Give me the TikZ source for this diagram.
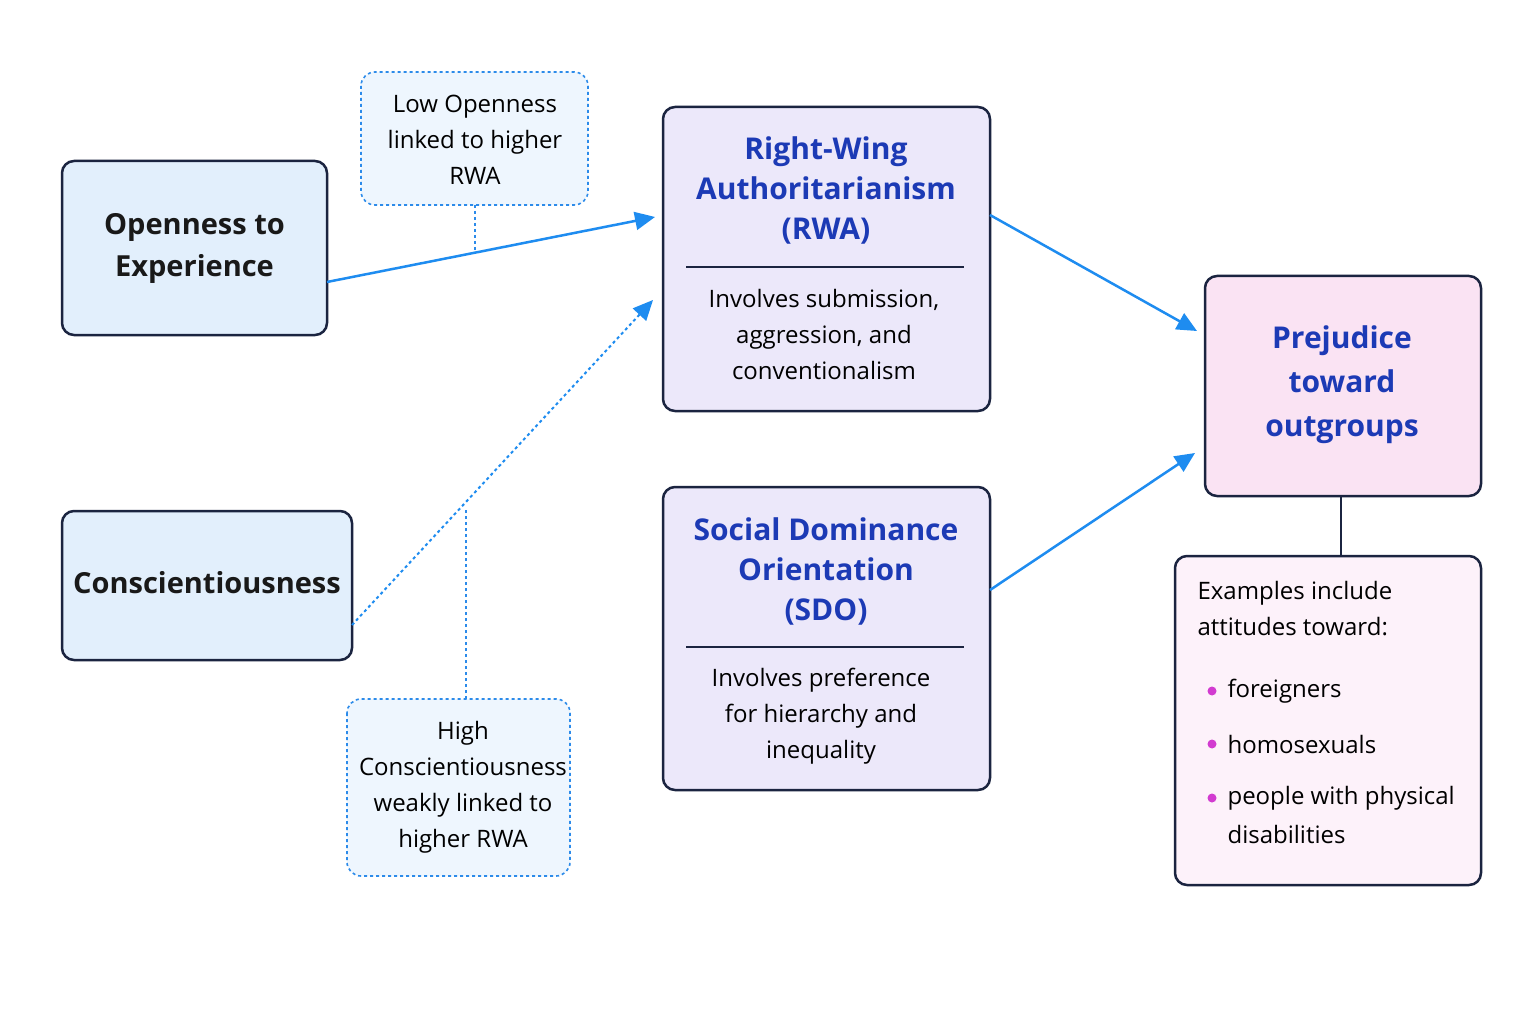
\documentclass[tikz,border=0pt]{standalone}
\usepackage{fontspec}
\setmainfont{Open Sans}
\usetikzlibrary{arrows.meta}
\definecolor{navy}{HTML}{1B2440}
\definecolor{lblue}{HTML}{E2EFFC}
\definecolor{vlblue}{HTML}{EEF6FE}
\definecolor{dblue}{HTML}{2C8BEA}
\definecolor{arrowblue}{HTML}{1E8CF0}
\definecolor{lav}{HTML}{ECE8FA}
\definecolor{pinkf}{HTML}{FAE3F3}
\definecolor{vpink}{HTML}{FDF2FA}
\definecolor{titleblue}{HTML}{1C3AB5}
\definecolor{mag}{HTML}{D23BD0}
\begin{document}
\begin{tikzpicture}[x=1pt,y=-1pt,
  box/.style={draw=navy,line width=2.5pt,rounded corners=12pt},
  note/.style={draw=dblue,dashed,line width=1.6pt,fill=vlblue,rounded corners=14pt},
  arr/.style={draw=arrowblue,line width=2.5pt,-{Triangle[length=20pt,width=18pt]}},
  txt/.style={align=center,font=\fontsize{24}{36}\selectfont,text=black},
  big/.style={align=center,font=\fontsize{29}{42}\selectfont\bfseries,text=black!90},
  ttl/.style={align=center,font=\fontsize{30}{40}\selectfont\bfseries,text=titleblue}]
\useasboundingbox (0,0) rectangle (1536,1024);
\fill[white] (0,0) rectangle (1536,1024);
% boxes
\draw[box,fill=lblue] (62,161) rectangle (327,335);
\node[big] (open) at (194.5,248) {Openness to\\Experience};
\draw[box,fill=lblue] (62,511) rectangle (352,660);
\node[big] (cons) at (207,583) {Conscientiousness};
\draw[note] (361,72) rectangle (588,205);
\node[txt] (lowo) at (475,140) {Low Openness\\linked to higher\\RWA};
\draw[note] (347,699) rectangle (570,876);
\node[txt] (highc) at (463,787) {High\\Conscientiousness\\weakly linked to\\higher RWA};
\draw[box,fill=lav] (663,107) rectangle (990,411);
\node[ttl] (rwa) at (826,190) {Right-Wing\\Authoritarianism\\(RWA)};
\draw[navy,line width=2pt] (686,267) -- (964,267);
\node[txt] (rwab) at (824,334) {Involves submission,\\aggression, and\\conventionalism};
\draw[box,fill=lav] (663,487) rectangle (990,790);
\node[ttl] (sdo) at (826,571) {Social Dominance\\Orientation\\(SDO)};
\draw[navy,line width=2pt] (686,647) -- (964,647);
\node[txt] (sdob) at (821,716) {Involves preference\\for hierarchy and\\inequality};
\draw[box,fill=pinkf] (1205,276) rectangle (1481,496);
\node[ttl,font=\fontsize{30}{44}\selectfont\bfseries] (prej) at (1342,385) {Prejudice\\toward\\outgroups};
\draw[box,fill=vpink] (1175,556) rectangle (1481,885);
\node[txt,align=left,anchor=north west] (ex) at (1194,578) {Examples include\\attitudes toward:};
\foreach \y/\t in {691/foreigners,744/homosexuals,798/people with physical} {
  \fill[mag] (1212,\y) circle (4.5pt);
  \node[txt,anchor=west] at (1224,\y) {\t};
}
\node[txt,anchor=west] (dis) at (1224,834) {disabilities};
% connectors
\coordinate (o1) at (327,282);
\coordinate (r1) at (655,217);
\coordinate (c1) at (352,625);
\coordinate (r2) at (653,300);
\draw[arr] (o1) -- (r1);
\draw[arr,dashed,line width=2pt] (c1) -- (r2);
\coordinate (m1) at (475,250);
\coordinate (n1) at (475,205);
\draw[dblue,dashed,line width=1.6pt] (n1) -- (m1);
\coordinate (m2) at (466,510);
\coordinate (n2) at (466,699);
\draw[dblue,dashed,line width=1.6pt] (n2) -- (m2);
\coordinate (r3) at (990,215);
\coordinate (p1) at (1197,331);
\draw[arr] (r3) -- (p1);
\coordinate (s3) at (990,590);
\coordinate (p2) at (1195,453);
\draw[arr] (s3) -- (p2);
\coordinate (pb) at (1341,496);
\coordinate (et) at (1341,556);
\draw[navy,line width=2.5pt] (pb) -- (et);
\end{tikzpicture}
\end{document}
